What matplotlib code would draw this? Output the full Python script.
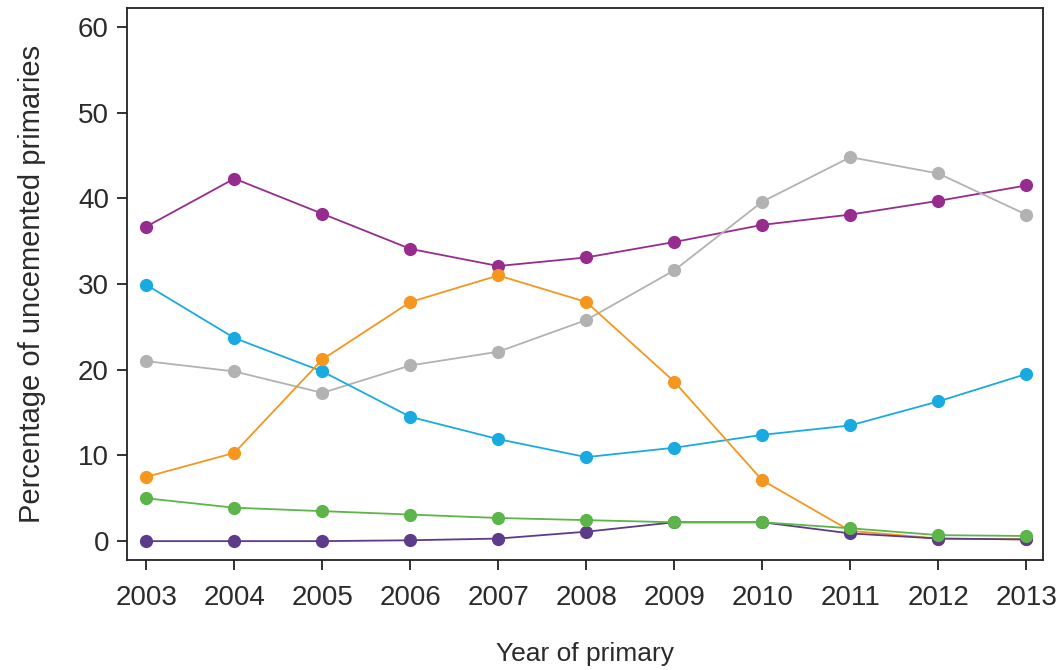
import matplotlib
matplotlib.use("Agg")
import matplotlib.pyplot as plt

plt.rcParams['font.family'] = ['Liberation Sans', 'DejaVu Sans']

years = [2003, 2004, 2005, 2006, 2007, 2008, 2009, 2010, 2011, 2012, 2013]

# percentage of uncemented primaries per design
purple = [36.7, 42.3, 38.2, 34.1, 32.1, 33.1, 34.9, 36.9, 38.1, 39.7, 41.5]
grey = [21.0, 19.8, 17.3, 20.5, 22.1, 25.8, 31.6, 39.6, 44.8, 42.9, 38.1]
blue = [29.9, 23.7, 19.8, 14.5, 11.9, 9.8, 10.9, 12.4, 13.5, 16.3, 19.5]
orange = [7.5, 10.3, 21.2, 27.9, 31.0, 27.9, 18.6, 7.1, 1.2, 0.3, 0.2]
green = [5.0, 3.9, 3.5, 3.1, 2.7, 2.45, 2.2, 2.2, 1.5, 0.7, 0.6]
dark_purple = [0.0, 0.0, 0.0, 0.1, 0.3, 1.1, 2.2, 2.2, 0.9, 0.3, 0.2]

series = [
    (purple, '#962C8E'),
    (grey, '#B2B2B2'),
    (blue, '#1AAAE2'),
    (orange, '#F5961F'),
    (dark_purple, '#5E3A8A'),
    (green, '#5BB548'),
]

fig = plt.figure(figsize=(10.61, 6.70), dpi=100)
ax = fig.add_axes([0.1197, 0.1642, 0.8633, 0.8238])

for vals, col in series:
    ax.plot(years, vals, color=col, lw=1.3, marker='o', markersize=9.5,
            markeredgewidth=0)

ax.set_xlim(2002.78, 2013.19)
ax.set_ylim(-2.2, 62.2)
ax.set_xticks(years)
ax.set_yticks(range(0, 61, 10))

txt = '#2b2b2b'
for s in ax.spines.values():
    s.set_linewidth(1.3)
    s.set_color('#222222')
ax.tick_params(direction='out', length=7, width=1.3, color='#222222',
               labelsize=20, labelcolor=txt)
ax.tick_params(axis='x', pad=11)
ax.tick_params(axis='y', pad=6)

ax.set_xlabel('Year of primary', fontsize=19, color=txt, labelpad=22)
ax.set_ylabel('Percentage of uncemented primaries', fontsize=21, color=txt,
              labelpad=23)

fig.savefig('out.png', dpi=100)
